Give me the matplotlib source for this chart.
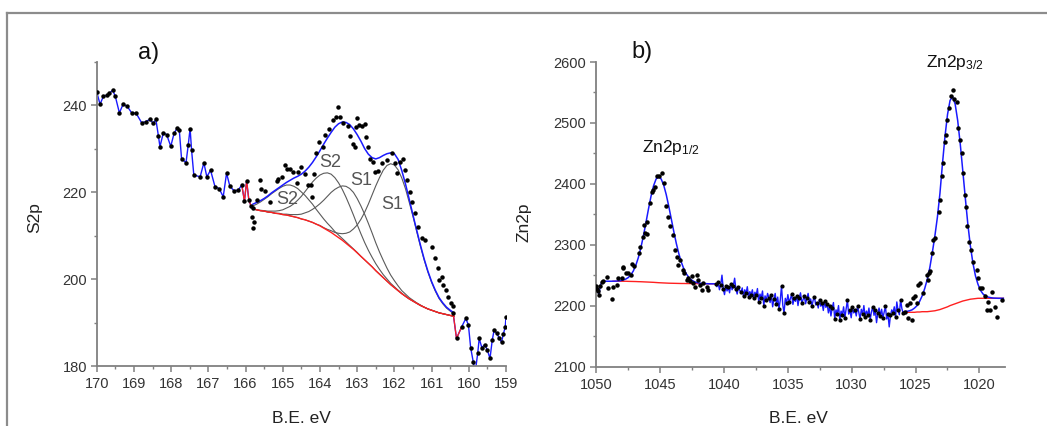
import numpy as np
import matplotlib
matplotlib.use("Agg")
import matplotlib.pyplot as plt
from matplotlib.lines import Line2D
from matplotlib.ticker import MultipleLocator

plt.rcParams['font.family'] = ['Liberation Sans', 'DejaVu Sans']
plt.rcParams['mathtext.fontset'] = 'custom'
plt.rcParams['mathtext.rm'] = 'Liberation Sans'
plt.rcParams['mathtext.it'] = 'Liberation Sans'

# ---------------- panel a) S2p ----------------
s_noise1_E = [170.00, 169.91, 169.82, 169.71, 169.66, 169.57, 169.50, 169.39, 169.29, 169.18,
              169.06, 168.94, 168.79, 168.68, 168.57, 168.48, 168.41, 168.34, 168.30, 168.21,
              168.12, 168.01, 167.92, 167.83, 167.78, 167.72, 167.60, 167.54, 167.49, 167.45,
              167.39, 167.22, 167.12, 167.04, 166.94, 166.82, 166.71, 166.60, 166.51, 166.42,
              166.31, 166.20, 166.10, 166.03, 165.97, 165.91, 165.85]
s_noise1_v = [243.1, 240.3, 242.1, 242.4, 242.8, 243.5, 242.1, 238.3, 240.3, 239.8,
              238.3, 238.2, 236.0, 236.3, 236.8, 235.9, 236.8, 232.9, 230.5, 233.7,
              233.3, 230.6, 233.6, 234.9, 234.3, 227.8, 226.8, 230.9, 234.7, 229.7,
              224.0, 223.6, 226.8, 223.6, 225.1, 221.3, 220.9, 219.0, 224.4, 221.4,
              220.4, 220.5, 221.7, 218.0, 222.6, 218.2, 216.8]

s_noise2_E = [160.42, 160.33, 160.19, 160.08, 160.01, 159.95, 159.88, 159.83, 159.76, 159.72,
              159.65, 159.57, 159.50, 159.43, 159.37, 159.32, 159.25, 159.18, 159.12, 159.07,
              159.02, 159.00]
s_noise2_v = [192.2, 186.4, 189.1, 191.0, 189.5, 184.3, 181.0, 178.5, 183.0, 186.4,
              184.3, 185.0, 183.7, 181.8, 186.0, 188.3, 187.6, 186.5, 185.5, 187.5,
              189.0, 191.4]

# fit grid 165.8 -> 160.4 (0.1 eV)
s_fit_E = np.linspace(165.8, 160.4, 55)
s_background = [216.2, 216.0, 215.8, 215.7, 215.5, 215.4, 215.2, 215.1, 214.9, 214.8,
                214.6, 214.4, 214.2, 213.9, 213.7, 213.4, 213.1, 212.7, 212.3, 211.8,
                211.3, 210.8, 210.2, 209.6, 209.0, 208.3, 207.6, 206.9, 206.1, 205.3,
                204.5, 203.7, 202.9, 202.0, 201.2, 200.4, 199.6, 198.8, 198.1, 197.4,
                196.7, 196.1, 195.5, 195.0, 194.5, 194.0, 193.6, 193.2, 192.9, 192.6,
                192.3, 192.1, 191.9, 191.7, 191.5]
s_envelope = [217.3, 217.7, 218.1, 218.6, 219.2, 219.9, 220.5, 221.1, 221.7, 222.3,
              222.8, 223.3, 223.7, 224.2, 224.9, 225.8, 226.9, 228.2, 229.6, 231.1,
              232.5, 233.8, 235.0, 235.8, 236.2, 236.1, 235.6, 234.6, 233.3, 231.8,
              230.1, 228.8, 228.0, 227.7, 228.0, 228.5, 228.9, 229.1, 228.9, 227.6,
              225.0, 221.9, 218.4, 214.8, 211.3, 207.9, 204.7, 201.9, 199.5, 197.5,
              195.8, 194.6, 193.6, 192.9, 192.3]
s_comp_S2a = [216.9, 217.3, 217.8, 218.4, 219.0, 219.7, 220.3, 220.9, 221.4, 221.7,
              221.7, 221.4, 220.9, 220.1, 219.3, 218.3, 217.3, 216.1, 215.0, 213.9,
              212.9, 212.0, 211.0, 210.2, 209.4, 208.6, 207.8, 207.0, 206.2, 205.3,
              204.5, 203.7, 202.9, 202.0, 201.2, 200.4, 199.6, 198.8, 198.1, 197.4,
              196.7, 196.1, 195.5, 195.0, 194.5, 194.0, 193.6, 193.2, 192.9, 192.6,
              192.3, 192.1, 191.9, 191.7, 191.5]
s_comp_S2b = [216.2, 216.0, 215.9, 215.8, 215.7, 215.7, 215.7, 215.8, 216.0, 216.4,
              216.8, 217.4, 218.2, 219.1, 220.2, 221.3, 222.4, 223.3, 224.0, 224.4,
              224.5, 224.2, 223.4, 222.2, 220.7, 218.9, 216.9, 214.8, 212.6, 210.5,
              208.5, 206.7, 205.1, 203.6, 202.3, 201.1, 200.1, 199.1, 198.3, 197.5,
              196.8, 196.1, 195.5, 195.0, 194.5, 194.0, 193.6, 193.2, 192.9, 192.6,
              192.3, 192.1, 191.9, 191.7, 191.5]
s_comp_S1a = [216.2, 216.0, 215.8, 215.7, 215.5, 215.4, 215.2, 215.2, 215.0, 215.0,
              214.9, 214.9, 214.9, 215.0, 215.3, 215.6, 216.1, 216.7, 217.4, 218.2,
              219.1, 220.0, 220.7, 221.2, 221.5, 221.4, 220.9, 220.0, 218.6, 216.9,
              215.0, 212.9, 210.7, 208.4, 206.3, 204.4, 202.6, 201.0, 199.7, 198.5,
              197.4, 196.6, 195.8, 195.2, 194.6, 194.1, 193.6, 193.2, 192.9, 192.6,
              192.3, 192.1, 191.9, 191.7, 191.5]
s_comp_S1b = [216.2, 216.0, 215.8, 215.7, 215.5, 215.4, 215.2, 215.1, 214.9, 214.8,
              214.6, 214.4, 214.2, 213.9, 213.7, 213.4, 213.1, 212.7, 212.4, 211.9,
              211.5, 211.2, 210.8, 210.6, 210.5, 210.6, 210.9, 211.6, 212.5, 213.8,
              215.4, 217.3, 219.4, 221.5, 223.4, 225.1, 226.2, 226.6, 226.3, 225.2,
              223.3, 220.8, 217.7, 214.5, 211.0, 207.6, 204.5, 201.7, 199.3, 197.3,
              195.6, 194.4, 193.4, 192.7, 192.1]

s_dots_E = [165.83, 165.81, 165.79, 165.77, 165.70, 165.61, 165.59, 165.48, 165.34, 165.16,
            165.12, 165.03, 164.94, 164.88, 164.80, 164.72, 164.63, 164.58, 164.52, 164.40,
            164.31, 164.25, 164.21, 164.16, 164.11, 164.02, 163.93, 163.86, 163.77, 163.64,
            163.57, 163.51, 163.46, 163.37, 163.24, 163.19, 163.10, 163.06, 163.04, 163.01,
            162.94, 162.86, 162.79, 162.76, 162.72, 162.65, 162.57, 162.52, 162.43, 162.34,
            162.21, 162.07, 161.98, 161.92, 161.85, 161.77, 161.72, 161.66, 161.58, 161.53,
            161.45, 161.36, 161.27, 161.18, 161.00, 160.91, 160.84, 160.79, 160.73, 160.68,
            160.61, 160.55, 160.49, 160.43]
s_dots_v = [214.4, 211.7, 216.3, 213.2, 218.3, 222.8, 220.9, 220.4, 217.9, 222.7,
            223.2, 223.6, 226.3, 225.5, 225.3, 224.7, 222.1, 224.7, 225.9, 224.3,
            221.7, 221.6, 219.0, 224.3, 229.0, 231.7, 230.5, 233.2, 234.7, 236.6,
            237.3, 239.6, 237.4, 235.9, 235.2, 233.0, 231.1, 230.5, 235.1, 237.2,
            235.5, 235.3, 235.7, 232.8, 230.5, 227.6, 227.1, 224.8, 225.0, 226.7,
            227.4, 229.1, 226.7, 224.4, 227.0, 227.6, 225.1, 222.8, 220.0, 217.9,
            215.2, 212.1, 209.4, 209.0, 207.5, 204.8, 202.5, 199.8, 200.6, 198.7,
            197.5, 196.0, 194.5, 193.9]

s_labels = ["S2", "S2", "S1", "S1"]
s_label_E = [164.88, 163.73, 162.88, 162.07]
s_label_v = [218.4, 226.9, 222.8, 217.3]

# ---------------- panel b) Zn2p ----------------
z_noise0_E = [1050.0, 1049.95, 1049.86, 1049.76, 1049.66, 1049.56, 1049.46]
z_noise0_v = [2233, 2228, 2224, 2218, 2233, 2238, 2240]

z_env1_E = np.linspace(1049.46, 1040.74, 45)
z_env1 = [2240, 2240, 2240, 2240, 2240.1, 2240.2, 2240.5, 2241, 2241.9, 2243.5,
          2246, 2250.3, 2256.8, 2266.2, 2278.9, 2295.2, 2314.7, 2336.4, 2358.8, 2379.7,
          2396.8, 2407.9, 2411.6, 2407.9, 2397.8, 2382.3, 2363.1, 2342.2, 2321.3, 2301.8,
          2284.8, 2270.8, 2259.8, 2251.7, 2246.0, 2242.0, 2239.5, 2237.9, 2237.0, 2236.5,
          2236.2, 2236.0, 2235.8, 2235.8, 2235.8]
z_bg1_E = np.linspace(1048.67, 1040.74, 41)
z_bg1 = [2240, 2240, 2240, 2240, 2240, 2240, 2239.8, 2239.7, 2239.6, 2239.5,
         2239.3, 2239.2, 2239.0, 2238.8, 2238.6, 2238.4, 2238.2, 2237.9, 2237.6, 2237.4,
         2237.2, 2237.0, 2236.8, 2236.7, 2236.6, 2236.5, 2236.4, 2236.3, 2236.3, 2236.2,
         2236.2, 2236.1, 2236.1, 2236.0, 2236.0, 2236.0, 2235.9, 2235.9, 2235.8, 2235.8,
         2235.8]

z_mid_E = np.linspace(1040.64, 1025.87, 150)
z_mid = [2236, 2231, 2238, 2226, 2234, 2250, 2228, 2218, 2232, 2224,
         2230, 2221, 2236, 2226, 2233, 2245, 2227, 2219, 2231, 2225,
         2222, 2229, 2215, 2226, 2220, 2231, 2214, 2223, 2218, 2226,
         2212, 2222, 2217, 2228, 2206, 2219, 2213, 2224, 2200, 2216,
         2209, 2220, 2213, 2205, 2217, 2198, 2211, 2220, 2203, 2214,
         2195, 2209, 2232, 2201, 2188, 2212, 2204, 2218, 2206, 2211,
         2219, 2202, 2212, 2207, 2216, 2200, 2213, 2221, 2204, 2210,
         2215, 2203, 2212, 2220, 2206, 2211, 2199, 2209, 2214, 2201,
         2205, 2196, 2210, 2199, 2204, 2192, 2207, 2197, 2203, 2188,
         2199, 2183, 2196, 2205, 2178, 2193, 2187, 2200, 2176, 2191,
         2185, 2198, 2180, 2194, 2209, 2186, 2192, 2180, 2197, 2188,
         2193, 2183, 2199, 2189, 2178, 2194, 2186, 2200, 2182, 2191,
         2185, 2196, 2177, 2190, 2198, 2184, 2193, 2172, 2188, 2196,
         2183, 2194, 2180, 2189, 2199, 2178, 2186, 2165, 2184, 2193,
         2188, 2198, 2181, 2206, 2192, 2185, 2210, 2195, 2188, 2190]

z_env2_E = np.linspace(1025.87, 1018.13, 40)
z_env2 = [2190, 2190.5, 2191.5, 2193, 2196, 2200, 2207, 2216, 2228, 2243,
          2262, 2287, 2314, 2345, 2384, 2433, 2478, 2514, 2537, 2543,
          2531, 2504, 2466, 2422, 2377, 2334, 2298, 2270, 2249, 2235,
          2225, 2219, 2216, 2214, 2213, 2212.4, 2212.2, 2212, 2212, 2212]
z_bg2 = [2189, 2189, 2189, 2189, 2189, 2189.5, 2189.5, 2190, 2190, 2190,
         2190.5, 2191, 2191.5, 2192.5, 2193.5, 2195, 2196.5, 2198, 2200, 2201.5,
         2203, 2204.5, 2206, 2207.5, 2208.5, 2209.5, 2210.5, 2211, 2211.5, 2212,
         2212, 2212, 2212, 2212, 2212, 2212, 2212, 2212, 2212, 2212]

z_dots1_E = [1049.16, 1049.03, 1048.78, 1048.65, 1048.38, 1048.25, 1047.99, 1047.91, 1047.86, 1047.66,
             1047.52, 1047.26, 1047.21, 1047.05, 1046.62, 1046.54, 1046.36, 1046.23, 1046.14, 1046.04,
             1045.99, 1045.77, 1045.64, 1045.51, 1045.39, 1045.26, 1045.05, 1044.84, 1044.68, 1044.52,
             1044.35, 1044.22, 1043.95, 1043.82, 1043.69, 1043.56, 1043.42, 1043.17, 1043.12, 1042.91,
             1042.78, 1042.65, 1042.52, 1042.39, 1042.26, 1042.12, 1042.00, 1041.87, 1041.73, 1041.61,
             1041.34, 1041.21]
z_dots1_v = [2247, 2229, 2211, 2231, 2234, 2245, 2245, 2261, 2263, 2253,
             2253, 2250, 2268, 2265, 2286, 2297, 2312, 2332, 2319, 2317,
             2337, 2368, 2387, 2389, 2395, 2412, 2413, 2417, 2401, 2363,
             2346, 2330, 2316, 2291, 2280, 2267, 2275, 2258, 2253, 2242,
             2245, 2240, 2248, 2237, 2231, 2250, 2242, 2234, 2226, 2237,
             2231, 2226]
z_dots2_E = [1025.83, 1025.69, 1025.57, 1025.43, 1025.30, 1025.17, 1025.04, 1024.90, 1024.78, 1024.65,
             1024.39, 1024.13, 1024.00, 1023.92, 1023.86, 1023.73, 1023.60, 1023.48, 1023.14, 1023.08,
             1022.95, 1022.82, 1022.69, 1022.61, 1022.56, 1022.36, 1022.23, 1022.04, 1021.99, 1021.78,
             1021.65, 1021.52, 1021.38, 1021.31, 1021.13, 1021.05, 1020.95, 1020.79, 1020.68, 1020.47,
             1020.21, 1020.09, 1019.95, 1019.82, 1019.56, 1019.43, 1019.30, 1019.17, 1019.03, 1018.78,
             1018.65, 1018.26]
z_dots2_v = [2190, 2201, 2179, 2204, 2177, 2212, 2215, 2204, 2234, 2237,
             2220, 2250, 2242, 2253, 2256, 2286, 2308, 2311, 2354, 2374,
             2412, 2434, 2469, 2480, 2505, 2524, 2544, 2554, 2539, 2535,
             2491, 2472, 2450, 2417, 2382, 2362, 2330, 2305, 2291, 2272,
             2259, 2245, 2229, 2229, 2215, 2193, 2206, 2193, 2223, 2198,
             2182, 2209]

z_peak_labels = [r'$\mathregular{Zn2p_{1/2}}$', r'$\mathregular{Zn2p_{3/2}}$']
z_peak_label_E = [1046.42, 1024.18]
z_peak_label_v = [2452, 2592]

# ---------------- styling ----------------
W, H = 1047, 426
BLUE = '#1a1aff'
RED = '#ff2020'
GREY = '#5a5a5a'
AXC = '#808080'
TXT = '#333333'

fig = plt.figure(figsize=(W / 100, H / 100), dpi=100)
fig.patch.set_facecolor('white')

axA = fig.add_axes([96.7 / W, 1 - 366.3 / H, 409.3 / W, 304.3 / H])
axB = fig.add_axes([596 / W, 1 - 366.5 / H, 409 / W, 304.5 / H])


def style(ax):
    for s in ['top', 'right']:
        ax.spines[s].set_visible(False)
    for s in ['left', 'bottom']:
        ax.spines[s].set_color(AXC)
        ax.spines[s].set_linewidth(1.3)
    ax.tick_params(which='major', direction='out', length=4, width=1.1, color=AXC,
                   labelsize=10.5, labelcolor=TXT, pad=3)
    ax.tick_params(which='minor', direction='out', length=2.5, width=1.0, color=AXC)
    ax.tick_params(axis='x', which='major', pad=4)


dot_kw = dict(ls='none', marker='o', ms=2.2, color='black', zorder=5)

# panel a
axA.plot(s_noise1_E, s_noise1_v, color=BLUE, lw=1.0, zorder=2)
axA.plot(s_noise2_E, s_noise2_v, color=BLUE, lw=1.0, zorder=2)
axA.plot(s_noise1_E[-5:], s_noise1_v[-5:], color=RED, lw=0.9, zorder=3)
axA.plot(s_noise2_E[:3], s_noise2_v[:3], color=RED, lw=0.9, zorder=3)
for comp in (s_comp_S2a, s_comp_S2b, s_comp_S1a, s_comp_S1b):
    axA.plot(s_fit_E, comp, color=GREY, lw=0.8, zorder=2)
axA.plot(s_fit_E, s_background, color=RED, lw=1.0, zorder=3)
axA.plot(s_fit_E, s_envelope, color=BLUE, lw=1.1, zorder=4)
axA.plot(s_noise1_E, s_noise1_v, **dot_kw)
axA.plot(s_noise2_E, s_noise2_v, **dot_kw)
axA.plot(s_dots_E, s_dots_v, **dot_kw)
for t, e, v in zip(s_labels, s_label_E, s_label_v):
    axA.text(e, v, t, fontsize=13, color='#555555', ha='center', va='center', zorder=6)

axA.set_xlim(170, 159)
axA.set_ylim(180, 250)
axA.xaxis.set_major_locator(MultipleLocator(1))
axA.xaxis.set_minor_locator(MultipleLocator(0.5))
axA.yaxis.set_major_locator(MultipleLocator(20))
axA.yaxis.set_minor_locator(MultipleLocator(10))
axA.set_yticks([180, 200, 220, 240])
style(axA)
axA.set_xlabel('B.E. eV', fontsize=12.5, color='#222222')
axA.xaxis.set_label_coords(0.5, -0.147)
axA.set_ylabel('S2p', fontsize=12.5, color='#222222')
axA.yaxis.set_label_coords(-0.134, 0.49)

# panel b
axB.plot(z_noise0_E, z_noise0_v, color=BLUE, lw=1.0, zorder=2)
axB.plot(z_mid_E, z_mid, color=BLUE, lw=1.0, zorder=2)
axB.plot(z_env1_E, z_env1, color=BLUE, lw=1.1, zorder=4)
axB.plot(z_env2_E, z_env2, color=BLUE, lw=1.1, zorder=4)
axB.plot(z_bg1_E, z_bg1, color=RED, lw=1.0, zorder=3)
axB.plot(z_env2_E, z_bg2, color=RED, lw=1.0, zorder=3)
axB.plot(z_noise0_E, z_noise0_v, **dot_kw)
axB.plot(z_mid_E[::2], z_mid[::2], ls='none', marker='o', ms=2.0, color='black', zorder=5)
axB.plot(z_dots1_E, z_dots1_v, **dot_kw)
axB.plot(z_dots2_E, z_dots2_v, **dot_kw)
for t, e, v in zip(z_peak_labels, z_peak_label_E, z_peak_label_v):
    axB.text(e, v, t, fontsize=12.5, color='#111111', ha='left', va='baseline')

axB.set_xlim(1050, 1018)
axB.set_ylim(2100, 2600)
axB.xaxis.set_major_locator(MultipleLocator(5))
axB.xaxis.set_minor_locator(MultipleLocator(2.5))
axB.yaxis.set_major_locator(MultipleLocator(100))
axB.yaxis.set_minor_locator(MultipleLocator(50))
style(axB)
axB.set_xlabel('B.E. eV', fontsize=12.5, color='#222222')
axB.xaxis.set_label_coords(0.496, -0.147)
axB.set_ylabel('Zn2p', fontsize=12.5, color='#222222')
axB.yaxis.set_label_coords(-0.157, 0.475)

# panel letters
fig.text(149 / W, 1 - 53 / H, 'a)', fontsize=17, color='#111111', ha='center', va='center')
fig.text(642 / W, 1 - 52 / H, 'b)', fontsize=17, color='#111111', ha='center', va='center')

# outer frame lines (top and left)
fig.add_artist(Line2D([7 / W, 1], [1 - 13 / H, 1 - 13 / H], transform=fig.transFigure,
                      color='#8c8c8c', lw=1.6))
fig.add_artist(Line2D([7 / W, 7 / W], [0, 1 - 13 / H], transform=fig.transFigure,
                      color='#8c8c8c', lw=1.6))

fig.savefig('out.png', dpi=100, facecolor='white')
